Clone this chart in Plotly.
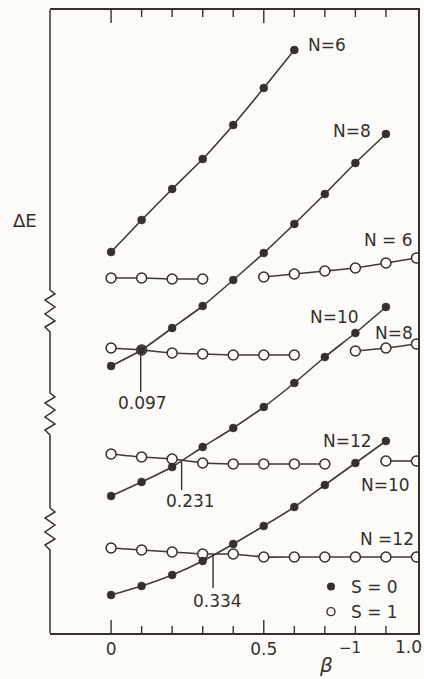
import plotly.graph_objects as go

# ---------------- data (ΔE in arbitrary units) ----------------
beta_inv = [0.0, 0.1, 0.2, 0.3, 0.4, 0.5, 0.6, 0.7, 0.8, 0.9, 1.0]

# S = 0 (filled circles)
n6_s0 = [38.1, 41.3, 44.4, 47.4, 50.8, 54.5, 58.3]
n8_s0 = [26.7, 28.3, 30.5, 32.7, 35.3, 38.0, 40.9, 43.9, 47.0, 49.9]
n10_s0 = [13.7, 15.1, 16.6, 18.6, 20.5, 22.6, 25.0, 27.6, 30.0, 32.6]
n12_s0 = [3.8, 4.7, 5.8, 7.2, 8.9, 10.7, 12.6, 14.8, 17.0, 19.2]

# S = 1 (open circles); None where the curve is broken by a crossing S=0 curve
n6_s1 = [35.5, 35.5, 35.4, 35.4, None, 35.6, 35.9, 36.2, 36.5, 37.0, 37.5]
n8_s1 = [28.5, 28.3, 28.0, 27.9, 27.8, 27.8, 27.8, None, 28.2, 28.5, 28.9]
n10_s1 = [17.9, 17.6, 17.4, 17.0, 16.9, 16.9, 16.9, 16.9, None, 17.2, 17.2]
n12_s1 = [8.5, 8.3, 8.1, 7.9, 7.9, 7.6, 7.6, 7.6, 7.6, 7.6, 7.6]

# crossing points (β^-1 values) marked on the chart
crossings = [0.097, 0.231, 0.334]
crossing_labels = ["0.097", "0.231", "0.334"]

major_ticks = [0.0, 0.5, 1.0]
major_text = ["0", "0.5", "1.0"]
minor_ticks = [0.1, 0.2, 0.3, 0.4, 0.6, 0.7, 0.8, 0.9]

# ---------------- styling ----------------
INK = "#35302b"
LINE = "#3f3a34"
PAPER = "#fcfbf7"
FONT = "DejaVu Sans"
LW = 1.6

fig = go.Figure()

s1_series = [n6_s1, n8_s1, n10_s1, n12_s1]
s0_series = [n6_s0, n8_s0, n10_s0, n12_s0]

for ys in s1_series:
    fig.add_trace(go.Scatter(
        x=beta_inv[:len(ys)], y=ys, mode="lines+markers",
        line=dict(color=LINE, width=LW, shape="spline", smoothing=0.5),
        marker=dict(symbol="circle", size=10, color=PAPER,
                    line=dict(color=INK, width=1.5)),
        connectgaps=False, name="S = 1", showlegend=False, hoverinfo="skip"))

for ys in s0_series:
    fig.add_trace(go.Scatter(
        x=beta_inv[:len(ys)], y=ys, mode="lines+markers",
        line=dict(color=LINE, width=LW, shape="spline", smoothing=0.5),
        marker=dict(symbol="circle", size=8, color=INK,
                    line=dict(color=INK, width=0.5)),
        name="S = 0", showlegend=False, hoverinfo="skip"))

# legend entries (markers only)
fig.add_trace(go.Scatter(x=[None], y=[None], mode="markers", name="S = 0",
                         marker=dict(symbol="circle", size=8, color=INK)))
fig.add_trace(go.Scatter(x=[None], y=[None], mode="markers", name="S = 1",
                         marker=dict(symbol="circle", size=8, color=PAPER,
                                     line=dict(color=INK, width=1.4))))

# ---------------- geometry helpers (plot area in pixels) ----------------
L, R, T, B = 50, 6, 10, 46
W, H = 424, 679
PW, PH = W - L - R, H - T - B


def px_x(px):
    return (px - L) / PW


def px_y(py):
    return (H - B - py) / PH


# left frame line with three zig-zag breaks
zig_starts = [290, 393, 508]
pts = [(px_x(50), px_y(T))]
for z in zig_starts:
    pts.append((px_x(50), px_y(z)))
    offs = [(5, 4), (-5, 10), (5, 17), (-5, 24), (5, 31), (-5, 37), (0, 42)]
    for dx, dy in offs:
        pts.append((px_x(50 + dx), px_y(z + dy)))
pts.append((px_x(50), px_y(H - B)))
path = "M " + " L ".join(f"{x:.5f},{y:.5f}" for x, y in pts)
fig.add_shape(type="path", path=path, xref="paper", yref="paper",
              line=dict(color=INK, width=1.5))

# inward ticks on the bottom and top frame (long at 0 and 0.5, short elsewhere)
for tv in major_ticks[:2] + minor_ticks:
    ln = 13 if tv in major_ticks else 7
    for base, sgn in ((0.0, 1), (1.0, -1)):
        fig.add_shape(type="line", xref="x", yref="paper", x0=tv, x1=tv,
                      y0=base, y1=base + sgn * ln / PH,
                      line=dict(color=INK, width=1.4))

# label for the last tick, kept inside the page edge
fig.add_annotation(xref="x", yref="paper", x=major_ticks[-1], y=px_y(647),
                   text=major_text[-1], showarrow=False, xanchor="right",
                   yanchor="middle", xshift=8,
                   font=dict(family=FONT, size=17, color=INK))

# crossing markers: vertical lead lines and labels
lead_tops = [28.3, 17.1, 7.8]
lead_bottoms = [24.1, 14.3, 4.5]
label_pos = [(0.103, 23.0), (0.259, 13.2), (0.347, 3.2)]
for xc, lab, yt, yb, (lx, ly) in zip(crossings, crossing_labels, lead_tops,
                                      lead_bottoms, label_pos):
    fig.add_shape(type="line", x0=xc, x1=xc, y0=yt, y1=yb, xref="x", yref="y",
                  line=dict(color=INK, width=1.4))
    fig.add_annotation(x=lx, y=ly, text=lab, showarrow=False,
                       font=dict(family=FONT, size=17, color=INK),
                       xanchor="center", yanchor="middle")

# curve labels
curve_labels = [
    ("N=6", 0.707, 58.8), ("N=8", 0.789, 50.2), ("N = 6", 0.907, 39.3),
    ("N=10", 0.733, 31.6), ("N=8", 0.927, 30.0), ("N=12", 0.773, 19.2),
    ("N=10", 0.900, 14.8), ("N =12", 0.904, 9.4),
]
for txt, x, y in curve_labels:
    fig.add_annotation(x=x, y=y, text=txt, showarrow=False,
                       font=dict(family=FONT, size=17, color=INK),
                       xanchor="center", yanchor="middle")

# axis titles
fig.add_annotation(xref="paper", yref="paper", x=px_x(25), y=px_y(220),
                   text="ΔE", showarrow=False, xanchor="center", yanchor="middle",
                   font=dict(family=FONT, size=18, color=INK))
fig.add_annotation(xref="paper", yref="paper", x=px_x(326), y=px_y(665),
                   text="<i>β</i>", showarrow=False, xanchor="center", yanchor="middle",
                   font=dict(family=FONT, size=20, color=INK))
fig.add_annotation(xref="paper", yref="paper", x=px_x(350), y=px_y(648),
                   text="−1", showarrow=False, xanchor="center", yanchor="middle",
                   font=dict(family=FONT, size=15, color=INK))

fig.update_layout(
    width=W, height=H,
    margin=dict(l=L, r=R, t=T, b=B, pad=0, autoexpand=False),
    paper_bgcolor=PAPER, plot_bgcolor=PAPER,
    font=dict(family=FONT, color=INK, size=17),
    legend=dict(x=px_x(311), y=px_y(569), xanchor="left", yanchor="top",
                bgcolor="rgba(0,0,0,0)", borderwidth=0, tracegroupgap=0,
                font=dict(family=FONT, size=17, color=INK), itemwidth=30),
    xaxis=dict(range=[-0.2, 1.005], showgrid=False, zeroline=False,
               automargin=False,
               showline=True, linecolor=INK, linewidth=1.5, mirror=True,
               ticks="", tickmode="array", tickvals=major_ticks[:2],
               ticktext=major_text[:2], ticklabelstandoff=0,
               tickfont=dict(family=FONT, size=17, color=INK)),
    yaxis=dict(range=[0, PH / 10], showgrid=False, zeroline=False,
               automargin=False,
               showticklabels=False, ticks="", side="right",
               showline=True, linecolor=INK, linewidth=1.5),
)

fig.write_html("out.html",
               config={"displayModeBar": False},
               post_script="document.body.style.margin='0';"
                           "document.body.style.padding='0';")
